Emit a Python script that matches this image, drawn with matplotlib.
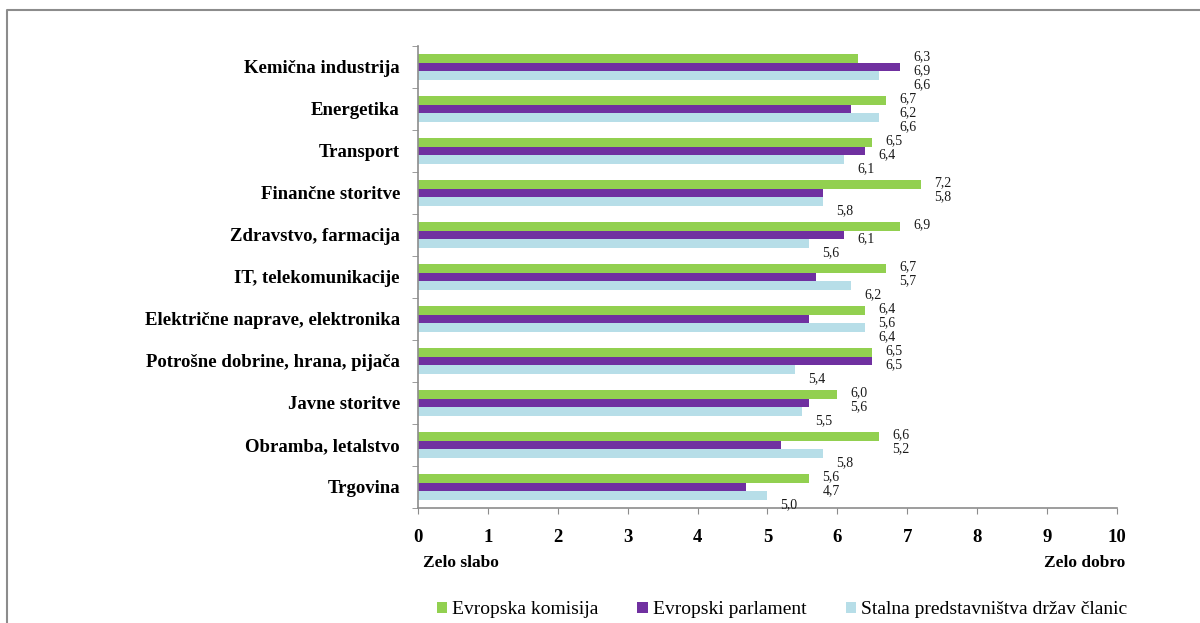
import matplotlib
matplotlib.use("Agg")
import matplotlib.pyplot as plt
from matplotlib.lines import Line2D

# categories top to bottom
sectors = ["Kemična industrija", "Energetika", "Transport", "Finančne storitve",
           "Zdravstvo, farmacija", "IT, telekomunikacije",
           "Električne naprave, elektronika", "Potrošne dobrine, hrana, pijača",
           "Javne storitve", "Obramba, letalstvo", "Trgovina"]
komisija = [6.3, 6.7, 6.5, 7.2, 6.9, 6.7, 6.4, 6.5, 6.0, 6.6, 5.6]
parlament = [6.9, 6.2, 6.4, 5.8, 6.1, 5.7, 5.6, 6.5, 5.6, 5.2, 4.7]
predstavnistva = [6.6, 6.6, 6.1, 5.8, 5.6, 6.2, 6.4, 5.4, 5.5, 5.8, 5.0]
series_names = ["Evropska komisija", "Evropski parlament",
                "Stalna predstavništva držav članic"]
colors = ["#92D050", "#7030A0", "#B7DEE8"]
xticks = list(range(0, 11))

plt.rcParams['font.family'] = ['Liberation Serif', 'DejaVu Serif']

fig = plt.figure(figsize=(12, 6.23), dpi=100)
ax = fig.add_axes([0.3483, 0.1846, 0.5825, 0.7416])

# outer frame (only left and top visible)
fig.add_artist(Line2D([0.0058, 0.0058, 1.0], [0.0, 0.984, 0.984],
                      transform=fig.transFigure, color="#8c8c8c", lw=1.5))

h = 0.207
ypos = list(range(len(sectors)))
all_series = [komisija, parlament, predstavnistva]
for i, vals in enumerate(all_series):
    ax.barh([y + (i - 1) * h for y in ypos], vals, height=h,
            color=colors[i], label=series_names[i])

# data labels, nudged like the original's overlapping labels
for k, y in enumerate(ypos):
    v0, v1, v2 = komisija[k], parlament[k], predstavnistva[k]
    x0 = max(v0, v1)
    x1 = x0 if v2 > v1 - 0.15 else v1
    gap = round(x1 - v2, 2)
    x2 = x1 if (0 < gap <= 0.3 and v1 >= v0) or 0 < gap < 0.25 else v2
    for i, (xv, v) in enumerate([(x0, v0), (x1, v1), (x2, v2)]):
        ax.annotate(f"{v:.1f}".replace(".", ","), xy=(xv, y + (i - 1) * 0.325 + 0.09),
                    xytext=(9.4, 0), textcoords="offset points",
                    ha="left", va="center", fontsize=10, color="#1a1a1a")

ax.set_xlim(0, 10)
ax.set_ylim(len(sectors) - 0.5, -0.5)
ax.set_xticks(xticks)
ax.set_xticklabels([str(t) for t in xticks], fontsize=13.5, fontweight="bold")
ax.set_yticks(ypos)
ax.set_yticklabels(sectors, fontsize=13.5, fontweight="bold")
ax.set_yticks([y - 0.5 for y in range(len(sectors) + 1)], minor=True)
ax.tick_params(axis="y", which="major", length=0, pad=13)
ax.tick_params(axis="y", which="minor", length=4.5, color="#8c8c8c", direction="out")
ax.tick_params(axis="x", which="major", length=4, color="#8c8c8c", pad=11)

for side in ["top", "right"]:
    ax.spines[side].set_visible(False)
for side in ["left", "bottom"]:
    ax.spines[side].set_color("#8c8c8c")
    ax.spines[side].set_linewidth(1.2)

fig.text(423 / 1200, 1 - 563 / 623, "Zelo slabo", ha="left", va="center",
         fontsize=12.5, fontweight="bold")
fig.text(1125 / 1200, 1 - 563 / 623, "Zelo dobro", ha="right", va="center",
         fontsize=12.5, fontweight="bold")

fig.legend(loc="center", bbox_to_anchor=(782 / 1200, 1 - 610 / 623), ncol=3,
           frameon=False, fontsize=14, handlelength=0.55, handleheight=0.55,
           handletextpad=0.25, columnspacing=2.0)

fig.savefig("out.png", dpi=100)
